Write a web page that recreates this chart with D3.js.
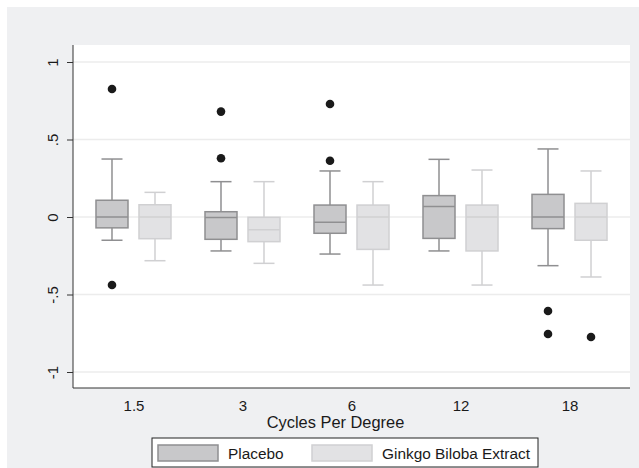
<!DOCTYPE html>
<html>
<head>
<meta charset="utf-8">
<style>
  body { margin: 0; background: #fff; }
  text { font-family: "Liberation Sans", Arial, sans-serif; fill: #1a1a1a; }
</style>
<script src="https://d3js.org/d3.v7.min.js"></script>
</head>
<body>
<script>
// categories on the x axis
const cycles = ["1.5", "3", "6", "12", "18"];
const seriesNames = ["Placebo", "Ginkgo Biloba Extract"];
const yTicks = [-1, -0.5, 0, 0.5, 1];
const yTickLabels = ["-1", "-.5", "0", ".5", "1"];

// [lower whisker, q1, median, q3, upper whisker] per category
const placeboStats = [
  [-0.15, -0.07, 0.0, 0.108, 0.374],
  [-0.219, -0.144, -0.004, 0.034, 0.228],
  [-0.239, -0.105, -0.034, 0.077, 0.297],
  [-0.219, -0.138, 0.067, 0.138, 0.372],
  [-0.314, -0.075, 0.0, 0.146, 0.439]
];
const ginkgoStats = [
  [-0.282, -0.14, 0.0, 0.079, 0.159],
  [-0.299, -0.159, -0.082, -0.002, 0.228],
  [-0.439, -0.209, 0.0, 0.077, 0.228],
  [-0.439, -0.219, 0.0, 0.077, 0.303],
  [-0.387, -0.15, 0.0, 0.088, 0.297]
];
const placeboOutliers = [[0.826, -0.439], [0.379, 0.68], [0.363, 0.729], [], [-0.606, -0.755]];
const ginkgoOutliers = [[], [], [], [], [-0.774]];

const W = 639, H = 468;
const pL = 73, pR = 630, pT = 45, pB = 388;

const svg = d3.select("body").append("svg")
  .attr("width", W).attr("height", H);

svg.append("rect").attr("x", 7).attr("y", 7)
  .attr("width", W - 7).attr("height", H - 7).attr("fill", "#eff0f2");
svg.append("rect").attr("x", pL).attr("y", pT)
  .attr("width", pR - pL).attr("height", pB - pT).attr("fill", "#fff");

const x = d3.scalePoint().domain(cycles).range([pL, pR]).padding(0.555);
const y = d3.scaleLinear().domain([-1, 1]).range([372, 62]);

// grid
svg.append("g").selectAll("line").data(yTicks).join("line")
  .attr("x1", pL).attr("x2", pR)
  .attr("y1", d => y(d)).attr("y2", d => y(d))
  .attr("stroke", "#ececec").attr("stroke-width", 1.5);

const series = [
  { stats: placeboStats, out: placeboOutliers, fill: "#c8c8ca", stroke: "#8f8f91", off: -21.5 },
  { stats: ginkgoStats, out: ginkgoOutliers, fill: "#e2e2e4", stroke: "#d0d0d2", off: 21.5 }
];
const bw = 32, cap = 21;

series.forEach(s => {
  const g = svg.append("g");
  s.stats.forEach((st, i) => {
    const cx = x(cycles[i]) + s.off;
    const [lo, q1, med, q3, hi] = st;
    g.append("line").attr("x1", cx).attr("x2", cx).attr("y1", y(q3)).attr("y2", y(hi))
      .attr("stroke", s.stroke).attr("stroke-width", 1.5);
    g.append("line").attr("x1", cx).attr("x2", cx).attr("y1", y(q1)).attr("y2", y(lo))
      .attr("stroke", s.stroke).attr("stroke-width", 1.5);
    g.append("line").attr("x1", cx - cap / 2).attr("x2", cx + cap / 2).attr("y1", y(hi)).attr("y2", y(hi))
      .attr("stroke", s.stroke).attr("stroke-width", 1.5);
    g.append("line").attr("x1", cx - cap / 2).attr("x2", cx + cap / 2).attr("y1", y(lo)).attr("y2", y(lo))
      .attr("stroke", s.stroke).attr("stroke-width", 1.5);
    g.append("rect").attr("x", cx - bw / 2).attr("y", y(q3))
      .attr("width", bw).attr("height", y(q1) - y(q3))
      .attr("fill", s.fill).attr("stroke", s.stroke).attr("stroke-width", 1.5);
    g.append("line").attr("x1", cx - bw / 2).attr("x2", cx + bw / 2).attr("y1", y(med)).attr("y2", y(med))
      .attr("stroke", s.stroke).attr("stroke-width", 1.5);
    g.selectAll(null).data(s.out[i]).join("circle")
      .attr("cx", cx).attr("cy", d => y(d)).attr("r", 4.3).attr("fill", "#1a1a1a");
  });
});

// axes
const yAxis = svg.append("g").attr("transform", `translate(${pL},0)`)
  .call(d3.axisLeft(y).tickValues(yTicks).tickSize(6)
    .tickFormat((d, i) => yTickLabels[i]));
yAxis.select(".domain").attr("d", `M0,${pT}V${pB}`).attr("stroke", "#333");
yAxis.selectAll(".tick line").attr("stroke", "#333");
yAxis.selectAll(".tick text").attr("transform", "rotate(-90)")
  .attr("x", 0).attr("y", -15).attr("dy", 0).attr("text-anchor", "middle")
  .style("font-size", "15px").style("font-family", "'Liberation Sans', Arial, sans-serif")
  .attr("fill", "#1a1a1a");

const xAxis = svg.append("g").attr("transform", `translate(0,${pB})`)
  .call(d3.axisBottom(x).tickSize(0).tickPadding(12));
xAxis.select(".domain").attr("d", `M${pL},0H${pR}`).attr("stroke", "#333");
xAxis.selectAll(".tick text").style("font-size", "15px")
  .style("font-family", "'Liberation Sans', Arial, sans-serif").attr("fill", "#1a1a1a");

svg.append("text").attr("x", 335.5).attr("y", 427.5)
  .attr("text-anchor", "middle").style("font-size", "16.4px").text("Cycles Per Degree");

// legend
const lg = svg.append("g");
lg.append("rect").attr("x", 152).attr("y", 438).attr("width", 386).attr("height", 29)
  .attr("fill", "#fff").attr("stroke", "#222").attr("stroke-width", 1);
const legX = [158, 312];
series.forEach((s, i) => {
  lg.append("rect").attr("x", legX[i]).attr("y", 445).attr("width", 60).attr("height", 16)
    .attr("fill", s.fill).attr("stroke", s.stroke).attr("stroke-width", 1.5);
  lg.append("text").attr("x", legX[i] + 70).attr("y", 458.5)
    .style("font-size", "15.4px").text(seriesNames[i]);
});
</script>
</body>
</html>
